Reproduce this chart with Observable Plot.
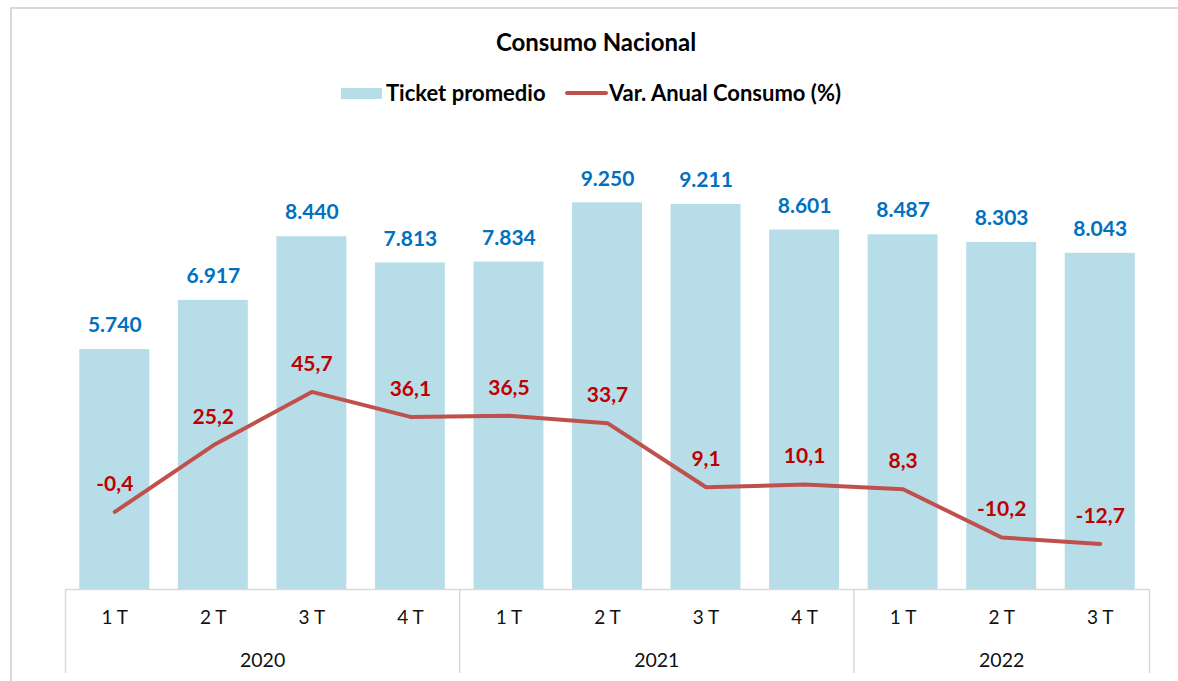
<!DOCTYPE html>
<html>
<head>
<meta charset="utf-8">
<script src="https://cdn.jsdelivr.net/npm/d3@7"></script>
<script src="https://cdn.jsdelivr.net/npm/@observablehq/plot@0.6"></script>
<style>
  html, body { margin: 0; padding: 0; background: #fff; }
  body { width: 1178px; height: 681px; overflow: hidden; position: relative; font-family: Lato, "Open Sans", sans-serif; }
  #frame { position: absolute; left: 10px; top: 7px; width: 1180px; height: 700px; border-left: 2px solid #d9d9d9; border-top: 2px solid #d9d9d9; }
  #header { position: relative; height: 120px; }
  #title { position: absolute; top: 27px; left: 0; width: 1192px; text-align: center; font-weight: bold; font-size: 24px; color: #000; }
  .leg { position: absolute; top: 79px; font-weight: bold; font-size: 22px; color: #000; white-space: nowrap; }
  .sw-bar { position: absolute; left: 341px; top: 88px; width: 41px; height: 11px; background: #B7DEE8; }
  .sw-line { position: absolute; left: 565px; top: 91px; width: 43px; height: 4px; border-radius: 2px; background: #C0504D; }
  #chart { position: relative; }
</style>
</head>
<body>
<div id="frame"></div>
<div id="header">
  <div id="title">Consumo Nacional</div>
  <div class="sw-bar"></div>
  <div class="leg" style="left:386px">Ticket promedio</div>
  <div class="sw-line"></div>
  <div class="leg" style="left:609px">Var. Anual Consumo (%)</div>
</div>
<div id="chart"></div>
<script>
// ---- data ----
const quarters = ["1 T","2 T","3 T","4 T","1 T","2 T","3 T","4 T","1 T","2 T","3 T"];
const years = ["2020","2020","2020","2020","2021","2021","2021","2021","2022","2022","2022"];
const ticket = [5740, 6917, 8440, 7813, 7834, 9250, 9211, 8601, 8487, 8303, 8043];
const varAnual = [-0.4, 25.2, 45.7, 36.1, 36.5, 33.7, 9.1, 10.1, 8.3, -10.2, -12.7];

// secondary axis mapped onto the primary (ticket) scale
const secZero = 1880, secPerUnit = 62.3;
const toPrimary = v => secZero + secPerUnit * v;

const fmtTicket = d3.formatLocale({decimal: ",", thousands: ".", grouping: [3], currency: ["", ""]}).format(",d");
const fmtPct = v => v.toFixed(1).replace(".", ",");

const rows = quarters.map((q, i) => ({i, q, year: years[i], ticket: ticket[i], pct: varAnual[i], lineY: toPrimary(varAnual[i])}));
const yearGroups = d3.groups(rows, d => d.year).map(([year, rs]) => ({
  year, mid: d3.mean(rs, r => r.i), start: d3.min(rs, r => r.i) - 0.5, end: d3.max(rs, r => r.i) + 0.5
}));
const separators = Array.from(new Set(yearGroups.flatMap(g => [g.start, g.end])));

const half = 0.355;
const chart = Plot.plot({
  width: 1178,
  height: 561,
  marginLeft: 65,
  marginRight: 29,
  marginTop: 51,
  marginBottom: 92,
  style: {fontFamily: "Lato, 'Open Sans', sans-serif", background: "transparent"},
  x: {domain: [-0.5, quarters.length - 0.5], axis: null},
  y: {domain: [0, 10000], axis: null},
  marks: [
    Plot.rectY(rows, {x1: d => d.i - half, x2: d => d.i + half, y1: 0, y2: "ticket", fill: "#B7DEE8"}),
    Plot.ruleY([0], {x1: -0.5, x2: quarters.length - 0.5, stroke: "#d9d9d9", strokeWidth: 1.5}),
    Plot.ruleX(separators, {x: d => d, y1: 0, y2: -2010, stroke: "#d9d9d9", strokeWidth: 1.5}),
    Plot.line(rows, {x: "i", y: "lineY", stroke: "#C0504D", strokeWidth: 4, strokeLinecap: "round", strokeLinejoin: "round"}),
    Plot.text(rows, {x: "i", y: "ticket", text: d => fmtTicket(d.ticket), dy: -24, fill: "#0070C0", fontWeight: "bold", fontSize: 21}),
    Plot.text(rows, {x: "i", y: "lineY", text: d => fmtPct(d.pct), dy: -28, fill: "#C00000", fontWeight: "bold", fontSize: 21}),
    Plot.text(rows, {x: "i", y: 0, text: "q", dy: 28, fill: "#111", fontSize: 19}),
    Plot.text(yearGroups, {x: "mid", y: 0, text: "year", dy: 71, fill: "#111", fontSize: 19.5})
  ]
});
document.getElementById("chart").appendChild(chart);
</script>
</body>
</html>
